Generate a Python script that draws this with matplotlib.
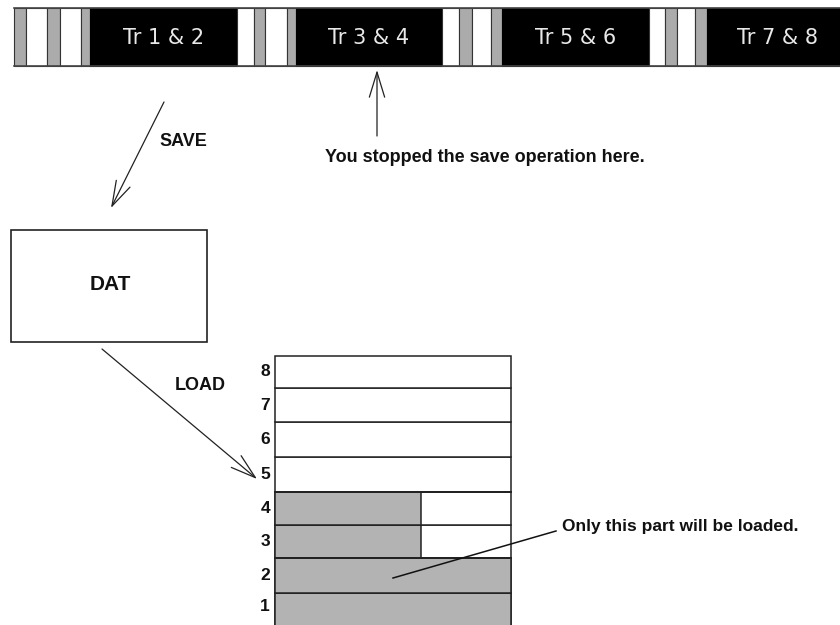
import matplotlib
matplotlib.use("Agg")
import matplotlib.pyplot as plt
from matplotlib.patches import Rectangle

plt.rcParams['font.family'] = ['Liberation Sans', 'DejaVu Sans']

# ---- data ----
tape_labels = ["Tr 1 & 2", "Tr 3 & 4", "Tr 5 & 6", "Tr 7 & 8"]
track_numbers = [1, 2, 3, 4, 5, 6, 7, 8]
loaded_fraction = [1.0, 1.0, 0.62, 0.62, 0.0, 0.0, 0.0, 0.0]
save_label = "SAVE"
load_label = "LOAD"
file_label = "DAT"
stop_note = "You stopped the save operation here."
load_note = "Only this part will be loaded."

# tape strip layout: (x0, x1, kind)
tape_segments = [
    (14, 26, 'g'), (26, 47, 'w'), (47, 60, 'g'), (60, 81, 'w'), (81, 90, 'g'), (90, 237, 'b'),
    (237, 254, 'w'), (254, 265, 'g'), (265, 287, 'w'), (287, 296, 'g'), (296, 442, 'b'),
    (442, 459, 'w'), (459, 472, 'g'), (472, 491, 'w'), (491, 502, 'g'), (502, 649, 'b'),
    (649, 665, 'w'), (665, 677, 'g'), (677, 695, 'w'), (695, 707, 'g'), (707, 842, 'b'),
]
colors = {'g': '#ababab', 'w': '#ffffff', 'b': '#000000'}

fig = plt.figure(figsize=(8.4, 6.25), dpi=100)
ax = fig.add_axes([0, 0, 1, 1])
ax.set_xlim(0, 840)
ax.set_ylim(625, 0)
ax.axis('off')

# tape strip
ty0, ty1 = 8, 66
for x0, x1, k in tape_segments:
    ax.add_patch(Rectangle((x0, ty0), x1 - x0, ty1 - ty0, facecolor=colors[k],
                           edgecolor='#333333' if k != 'b' else 'black', lw=0.8))
ax.plot([14, 840], [ty0, ty0], color='#444444', lw=1.2)
ax.plot([14, 840], [ty1, ty1], color='#444444', lw=1.2)
black_segs = [s for s in tape_segments if s[2] == 'b']
for (x0, x1, k), lab in zip(black_segs, tape_labels):
    cx = (x0 + x1) / 2 + (0 if x1 < 840 else 3)
    ax.text(cx, (ty0 + ty1) / 2 + 1, lab, color='#e8e8e8', fontsize=15,
            family='DejaVu Sans', ha='center', va='center')

arrow_kw = dict(arrowstyle='->,head_length=1.8,head_width=0.55', color='#222222', lw=0.9,
                shrinkA=0, shrinkB=0)

# stop arrow
ax.annotate('', xy=(377, 70), xytext=(377, 136), arrowprops=arrow_kw)
ax.text(325, 158, stop_note, fontsize=13, fontweight='bold', ha='left', va='center',
        color='#111111')

# SAVE arrow
ax.annotate('', xy=(111, 208), xytext=(164, 102), arrowprops=arrow_kw)
ax.text(159, 141, save_label, fontsize=13, fontweight='bold', ha='left', va='center',
        color='#111111')

# DAT box
ax.add_patch(Rectangle((11, 230), 196, 112, facecolor='white', edgecolor='#222222', lw=1.2))
ax.text(110, 285, file_label, fontsize=15, fontweight='bold', ha='center', va='center',
        color='#111111')

# LOAD arrow
ax.annotate('', xy=(257, 479), xytext=(102, 349), arrowprops=arrow_kw)
ax.text(175, 385, load_label, fontsize=13, fontweight='bold', ha='left', va='center',
        color='#111111')

# track table
bx0, bx1 = 275, 511
row_tops = [593, 558, 525, 492, 457, 422, 388, 356]
row_bots = [628, 593, 558, 525, 492, 457, 422, 388]
for n, frac, top, bot in zip(track_numbers, loaded_fraction, row_tops, row_bots):
    ax.add_patch(Rectangle((bx0, top), bx1 - bx0, bot - top, facecolor='white',
                           edgecolor='#222222', lw=1.1))
    if frac > 0:
        ax.add_patch(Rectangle((bx0, top), (bx1 - bx0) * frac, bot - top,
                               facecolor='#b3b3b3', edgecolor='#222222', lw=1.1))
    ax.text(270, (top + bot) / 2 + (-4 if n == 1 else 0), str(n), fontsize=12.5,
            fontweight='bold', ha='right', va='center', color='#111111')
ax.plot([bx0, bx1], [492, 492], color='#222222', lw=1.4)
ax.plot([bx0, bx1], [558, 558], color='#222222', lw=1.4)

# pointer to loaded part
ax.plot([393, 556], [578, 531], color='#111111', lw=1.1)
ax.text(562, 526, load_note, fontsize=12.5, fontweight='bold', ha='left', va='center',
        color='#111111')

fig.savefig('out.png', dpi=100)
